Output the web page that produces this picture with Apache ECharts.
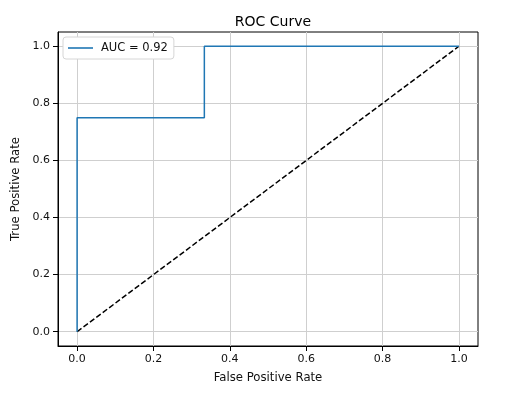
<!DOCTYPE html>
<html><head><meta charset="utf-8">
<script src="https://cdn.jsdelivr.net/npm/echarts@6/dist/echarts.min.js"></script>
<style>html,body{margin:0;padding:0;background:#fff}#c{width:511px;height:395px}</style>
</head><body><div id="c"></div>
<script>
const fpr = [0, 0, 0.3333, 0.3333, 1.0];
const tpr = [0, 0.75, 0.75, 1.0, 1.0];
const chanceX = [0, 1];
const chanceY = [0, 1];
const xTicks = [0, 0.2, 0.4, 0.6, 0.8, 1.0];
const yTicks = [0, 0.2, 0.4, 0.6, 0.8, 1.0];
const rocName = 'AUC = 0.92';

const font = 'DejaVu Sans';
const chart = echarts.init(document.getElementById('c'), null, {renderer: 'canvas'});
const gridColor = '#cfcfcf';
const axisCommon = {
  min: -0.05, max: 1.05,
  axisLine: {show: true, onZero: false, lineStyle: {color: '#000', width: 1}},
  splitLine: {show: false},
  nameLocation: 'middle',
  nameTextStyle: {fontFamily: font, fontSize: 11.7, color: '#111'}
};
chart.setOption({
  animation: false,
  backgroundColor: '#fff',
  title: {text: 'ROC Curve', left: 268, top: 10, textAlign: 'center',
    textStyle: {fontFamily: font, fontSize: 14, fontWeight: 'normal', color: '#000'}},
  grid: {left: 58, right: 33, top: 32, bottom: 49, show: true, borderColor: '#000', borderWidth: 1, backgroundColor: 'transparent'},
  legend: {
    data: [{name: rocName, icon: 'rect'}], left: 63, top: 37, orient: 'vertical', z: 10,
    backgroundColor: '#fff', borderColor: '#d6d6d6', borderWidth: 1, borderRadius: 3,
    padding: [5, 6, 5, 5], itemWidth: 25, itemHeight: 1.6, itemGap: 5,
    textStyle: {fontFamily: font, fontSize: 11.5, color: '#111', padding: [0, 0, 0, 3]}
  },
  xAxis: Object.assign({}, axisCommon, {
    type: 'value', name: 'False Positive Rate', nameGap: 26,
    axisTick: {show: true, inside: false, length: 5, customValues: xTicks, lineStyle: {color: '#000'}},
    axisLabel: {customValues: xTicks, fontFamily: font, fontSize: 11, color: '#111', margin: 8,
      formatter: v => v.toFixed(1)}
  }),
  yAxis: Object.assign({}, axisCommon, {
    type: 'value', name: 'True Positive Rate', nameGap: 33,
    axisTick: {show: true, inside: false, length: 5, customValues: yTicks, lineStyle: {color: '#000'}},
    axisLabel: {customValues: yTicks, fontFamily: font, fontSize: 11, color: '#111', margin: 8,
      formatter: v => v.toFixed(1)}
  }),
  series: [
    {
      name: 'grid', type: 'line', data: [], silent: true, z: 0,
      markLine: {
        silent: true, symbol: 'none', label: {show: false}, z: 0,
        lineStyle: {color: gridColor, type: 'solid', width: 1},
        animation: false,
        data: xTicks.map(v => ({xAxis: v})).concat(yTicks.map(v => ({yAxis: v})))
      }
    },
    {
      name: 'chance', type: 'line', symbol: 'none', z: 3,
      data: chanceX.map((x, i) => [x, chanceY[i]]),
      lineStyle: {color: '#000', width: 1.5, type: [5.5, 2.5]}
    },
    {
      name: rocName, type: 'line', symbol: 'none', z: 4,
      data: fpr.map((x, i) => [x, tpr[i]]),
      lineStyle: {color: '#1f77b4', width: 1.5},
      itemStyle: {color: '#1f77b4'}
    }
  ]
});
</script></body></html>
